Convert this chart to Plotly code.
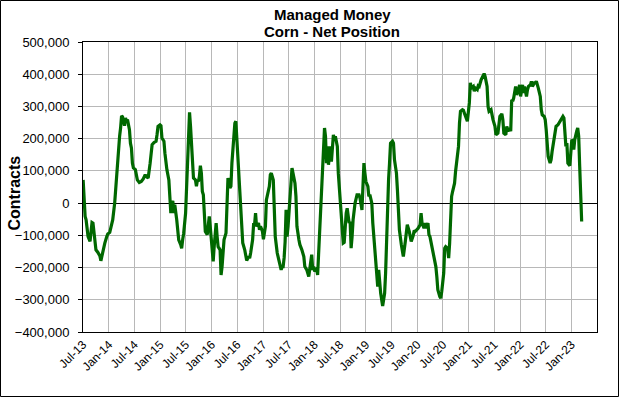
import datetime as dt
import plotly.graph_objects as go

# ---- data ----
start_date = "2013-07-02"   # first weekly report (Tuesday)
weeks = [0, 1, 2, 3, 5, 7, 9, 10, 11, 12, 13, 15, 17, 18, 20, 21, 22, 24, 25, 27, 29, 30, 32, 33, 34, 35, 37, 38, 39, 40,
         42, 43, 44, 45, 47, 48, 49, 50, 51, 53, 54, 55, 57, 59, 61, 63, 64, 66, 68, 69, 70, 72, 74, 75, 76, 78, 79, 80,
         82, 83, 84, 85, 87, 88, 89, 90, 91, 92, 93, 95, 96, 97, 99, 100, 101, 102,
         104, 105, 106, 107, 108, 109, 110, 111, 112, 114, 115, 116, 117, 118, 119, 120, 121, 122, 123, 124, 126, 127,
         128, 129, 130, 132, 133, 135, 136, 137, 139, 140, 141, 142, 143, 145, 146, 147, 149, 150, 151, 152, 154, 155,
         156, 157, 158, 160, 161, 162, 164, 165, 166, 168, 169, 170, 172, 173, 174, 175, 176, 178, 179, 180, 182, 183,
         185, 186, 187, 189, 190, 191, 193, 194, 195, 197, 198,
         199, 201, 202, 203, 204, 205, 206, 207, 208, 210, 211, 212, 213, 215, 216, 217, 219, 220, 222, 224, 225, 227,
         229, 230, 231, 232, 233, 234, 235, 237, 238, 239, 241, 242, 243, 244, 245, 246, 247, 248, 249, 251, 252, 254,
         255, 256, 258, 259, 260, 261, 262, 263, 264, 265, 266, 267, 268, 270, 271, 272, 273, 274, 276, 277, 278, 280,
         281, 283, 284, 285, 286, 287, 289, 290, 291, 293, 294, 295, 297, 298, 299, 300, 301, 302, 304, 305, 306, 307, 308,
         309, 310, 311, 312, 314, 315, 316, 318, 319, 320, 321, 323, 324, 325, 327, 328, 329, 331, 332, 333, 335, 336,
         337, 339, 340, 342, 343, 344, 346, 347, 348, 350, 351, 352, 354, 355, 356, 358, 359, 360, 362, 363, 364, 366,
         367, 368, 370, 371, 372, 373, 374, 375, 377, 378, 379, 381, 382, 383, 385, 386, 387, 389, 390, 392, 393, 394,
         396, 397, 398, 400, 401, 402, 404, 406, 407,
         408, 410, 411, 412, 414, 415, 416, 418, 419, 421, 422, 423, 425, 426, 427, 429, 430, 431, 433, 434, 435, 436,
         437, 439, 440, 442, 443, 444, 446, 447, 448, 450, 451, 452, 454, 455, 456, 458, 459, 460, 462, 463, 464, 465,
         466, 468, 469, 470, 471, 472, 474, 475, 476, 478, 479, 480, 482, 483, 484, 486, 487, 488, 489, 490, 491, 492,
         494, 495, 496, 497, 498, 499, 500, 501, 502, 503, 504, 505, 506]
net_thousands = [72, 0, -41, -52, -104, -119, -60, -62, -93, -114, -145, -153, -164, -179, -145, -140, -124, -104, -96, -91,
                 -67, -52, 0, 41, 93, 155, 207, 233, 271, 268,
                 240, 264, 254, 259, 228, 186, 171, 124, 109, 104, 88, 72, 64, 67, 75, 88, 83, 78, 124, 150, 181, 188,
                 192, 212, 238, 243, 240, 202,
                 192, 155, 114, 104, 72, 31, -31, 0, 7, -31, -5, -52, -78, -114, -129, -140, -114, -95,
                 -31, 52, 176, 238, 282, 238, 176, 114, 78, 72, 52, 72, 67, 83, 116, 93, 36, 26, -31, -88, -98, -62,
                 -41, -72, -114, -181, -135, -62, -104, -135, -145, -223, -197, -155, -114, -93, -10, 78, 47, 52, 124, 166,
                 248, 254,
                 197, 145, 93, 0, -62, -124, -145, -160, -178, -166, -171, -155, -114, -67, -67, -31, -72, -62, -83, -72,
                 -88, -112,
                 -72, 10, 21, 52, 88, 93, 72, -31, -104, -155, -166,
                 -186, -207, -197, -197, -170, -120, -21, -104, -72, 21, 93, 109, 93, 62, 21, -72, -114, -129, -145, -166,
                 -197, -207,
                 -228, -207, -176, -160, -207, -197, -212, -202, -223, -155, -72, 21, 72, 176, 233, 207, 124, 176, 119,
                 176, 129, 212,
                 199, 207, 176, 93, 41, 0, -57, -93, -124, -122, -47, -31, -16, -62, -57, -140, -104, -52, 0, 21, 26, 26,
                 16, -21, 52, 124, 93, 67, 52, 21, 26, 0, -62, -104, -155, -207, -259, -207, -248, -280, -319, -290, -280,
                 -217, -114,
                 21, 72, 124, 186, 192, 186, 135, 93, 41, -10, -83, -129, -155, -166, -119, -83, -67, -88, -104, -119,
                 -101, -85,
                 -88, -83, -78, -67, -31, -62, -78, -62, -78, -62, -98, -104, -135, -155, -171, -197, -228, -269, -290,
                 -295, -274, -217,
                 -140, -135, -140, -171, -124, -31, 21, 36, 62, 98, 124, 176, 248, 285, 290, 288, 279, 259, 254, 311,
                 373, 357,
                 362, 347, 357, 352, 364, 362, 383, 395, 402,
                 393, 362, 300, 285, 290, 269, 259, 238, 212, 217, 243, 269, 277, 259, 217, 212, 238, 223, 233, 223,
                 321, 316,
                 326, 362, 336, 352, 367, 331, 367, 342, 362, 331, 352, 362, 367, 378, 362, 373, 373, 378, 357, 342,
                 331, 290,
                 274, 269, 259, 228, 176, 145, 124, 135, 160, 197, 223, 238, 243, 248, 254, 264, 269, 264, 197, 176,
                 186, 124,
                 116, 155, 197, 192, 166, 197, 217, 223, 233, 207, 114, 40, -57]

tick_dates = ["2013-07-01", "2014-01-01", "2014-07-01", "2015-01-01", "2015-07-01", "2016-01-01", "2016-07-01",
              "2017-01-01", "2017-07-01", "2018-01-01", "2018-07-01", "2019-01-01", "2019-07-01", "2020-01-01",
              "2020-07-01", "2021-01-01", "2021-07-01", "2022-01-01", "2022-07-01", "2023-01-01"]
tick_labels = ["Jul-13", "Jan-14", "Jul-14", "Jan-15", "Jul-15", "Jan-16", "Jul-16", "Jan-17", "Jul-17", "Jan-18",
               "Jul-18", "Jan-19", "Jul-19", "Jan-20", "Jul-20", "Jan-21", "Jul-21", "Jan-22", "Jul-22", "Jan-23"]
y_ticks = [-400000, -300000, -200000, -100000, 0, 100000, 200000, 300000, 400000, 500000]
x_range = ["2013-07-01", "2023-07-01"]
y_range = [-400000, 500000]

# ---- build ----
assert len(weeks) == len(net_thousands)
d0 = dt.date.fromisoformat(start_date)
dates = [d0 + dt.timedelta(days=7 * w) for w in weeks]
values = [v * 1000 for v in net_thousands]

FONT = "Liberation Sans, Arial, sans-serif"
W, H = 619, 397
ML, MR, MT, MB = 83, 22, 42, 65
pw = W - ML - MR
ph = H - MT - MB


def px_x(x):  # figure pixel -> paper x
    return (x - ML) / pw


def px_y(y):  # figure pixel (from top) -> paper y
    return (H - MB - y) / ph


fig = go.Figure()
fig.add_trace(go.Scatter(x=dates, y=values, mode="lines",
                         line=dict(color="#006800", width=3.2), hoverinfo="x+y"))

# outer chart border
fig.add_shape(type="rect", xref="paper", yref="paper",
              x0=px_x(0.5), x1=px_x(W - 0.5), y0=px_y(H - 0.5), y1=px_y(0.5),
              line=dict(color="black", width=1), fillcolor="rgba(0,0,0,0)", layer="above")

annotations = [
    dict(text="<b>Managed Money</b>", x=px_x(332), y=px_y(14), xref="paper", yref="paper",
         xanchor="center", yanchor="middle", showarrow=False, font=dict(family=FONT, size=15, color="black")),
    dict(text="<b>Corn - Net Position</b>", x=px_x(332), y=px_y(32), xref="paper", yref="paper",
         xanchor="center", yanchor="middle", showarrow=False, font=dict(family=FONT, size=15, color="black")),
    dict(text="<b>Contracts</b>", x=px_x(13.5), y=px_y(193), xref="paper", yref="paper", textangle=-90,
         xanchor="center", yanchor="middle", showarrow=False, font=dict(family=FONT, size=16, color="black")),
]

fig.update_layout(
    width=W, height=H,
    margin=dict(l=ML, r=MR, t=MT, b=MB, pad=0),
    paper_bgcolor="white", plot_bgcolor="white",
    showlegend=False,
    font=dict(family=FONT, size=12, color="black"),
    annotations=annotations,
    xaxis=dict(
        type="date", range=x_range, autorange=False,
        tickmode="array", tickvals=tick_dates, ticktext=tick_labels, tickangle=-45,
        tickfont=dict(family=FONT, size=12, color="black"),
        showgrid=True, gridcolor="#b8b8b8", gridwidth=1,
        showline=True, linecolor="black", linewidth=1, mirror=True,
        ticks="", zeroline=False, automargin=False,
    ),
    xaxis2=dict(type="date", overlaying="x", anchor="free",
                position=(0 - y_range[0]) / (y_range[1] - y_range[0]),
                range=x_range, autorange=False, tickmode="array", tickvals=tick_dates, showticklabels=False,
                ticks="outside", ticklen=3, tickcolor="black", showgrid=False, showline=False,
                zeroline=False, automargin=False),
    yaxis=dict(
        range=y_range, autorange=False, tickmode="array", tickvals=y_ticks, tickformat=",",
        tickfont=dict(family=FONT, size=13, color="black"),
        showgrid=True, gridcolor="#b8b8b8", gridwidth=1,
        showline=True, linecolor="black", linewidth=1, mirror=True,
        ticks="outside", ticklen=4, tickcolor="black", ticklabelstandoff=6,
        zeroline=True, zerolinecolor="black", zerolinewidth=1,
        automargin=False,
    ),
)

fig.write_html("out.html", config={"displayModeBar": False},
               post_script="document.body.style.margin='0';document.body.style.overflow='hidden';")
